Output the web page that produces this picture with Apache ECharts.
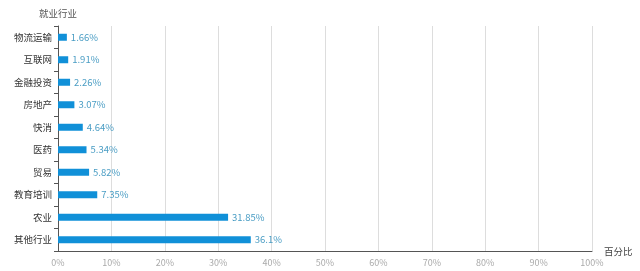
<!DOCTYPE html>
<html><head><meta charset="utf-8">
<script src="https://cdn.jsdelivr.net/npm/echarts@6/dist/echarts.min.js"></script>
<style>html,body{margin:0;padding:0;background:#fff}#c{width:640px;height:271px}</style>
</head><body><div id="c"></div>
<script>
const categories = ['物流运输','互联网','金融投资','房地产','快消','医药','贸易','教育培训','农业','其他行业'];
const values = [1.66,1.91,2.26,3.07,4.64,5.34,5.82,7.35,31.85,36.1];
const xTicks = [0,10,20,30,40,50,60,70,80,90,100];

const chart = echarts.init(document.getElementById('c'));
const F = '"Noto Sans CJK SC", "Noto Sans", sans-serif';
chart.setOption({
  animation: false,
  textStyle: {fontFamily: F},
  grid: {left: 58, right: 48, top: 26, bottom: 20, containLabel: false},
  xAxis: {
    type: 'value', min: xTicks[0], max: xTicks[xTicks.length-1], interval: 10,
    name: '百分比', nameLocation: 'end', nameGap: 12,
    nameTextStyle: {color: '#444', fontSize: 9.5, fontFamily: F, verticalAlign: 'top', padding: [-4,0,0,0]},
    axisLine: {show: true, lineStyle: {color: '#555', width: 1}},
    axisTick: {show: false},
    axisLabel: {color: '#aaa', fontSize: 9, margin: 7, fontFamily: F, formatter: v => v + '%'},
    splitLine: {show: true, lineStyle: {color: '#ddd', width: 1}}
  },
  yAxis: {
    type: 'category', data: categories, inverse: true,
    name: '就业行业', nameLocation: 'start', nameGap: 8,
    nameTextStyle: {color: '#555', fontSize: 9.5, fontFamily: F, align: 'center'},
    axisLine: {show: true, lineStyle: {color: '#555', width: 1}},
    axisTick: {show: true, length: 4, lineStyle: {color: '#555'}},
    axisLabel: {color: '#333', fontSize: 9.5, margin: 6, fontFamily: F},
    splitLine: {show: false}
  },
  series: [{
    type: 'bar', data: values, barWidth: 7,
    itemStyle: {color: '#1090d8'},
    label: {show: true, position: 'right', distance: 4, color: '#4a9dc4', fontSize: 9.5, fontFamily: F,
      formatter: p => p.value + '%'}
  }]
});
</script></body></html>
